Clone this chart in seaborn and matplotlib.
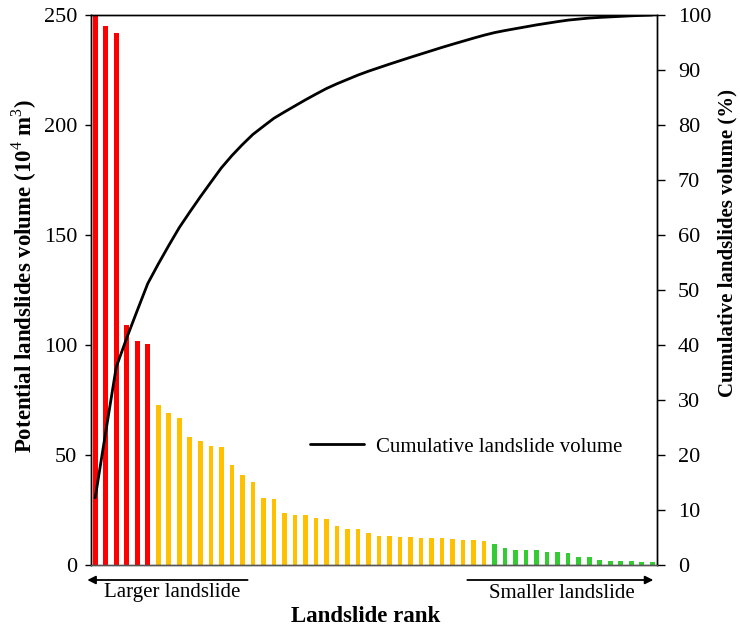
import numpy as np
import pandas as pd
import matplotlib
matplotlib.use("Agg")
import matplotlib.pyplot as plt
import seaborn as sns

# ---- data ----
volumes = [250, 245, 241.7, 109, 102, 100.5,
           72.6, 69.1, 66.7, 58.0, 56.4, 54.2, 53.6, 45.6, 41.1, 37.9, 30.3, 29.8,
           23.5, 22.6, 22.6, 21.4, 20.8, 17.7, 16.2, 16.2, 14.4, 13.2, 13.2, 12.7,
           12.7, 12.3, 12.3, 12.3, 11.7, 11.4, 11.4, 10.9,
           9.7, 7.7, 7.0, 7.0, 7.0, 6.1, 6.1, 5.6, 3.8, 3.8, 2.4, 2.0, 2.0, 2.0, 1.5, 1.5]
groups = ["large"] * 6 + ["medium"] * 32 + ["small"] * 16
group_colors = {"large": "#FF0000", "medium": "#FFC000", "small": "#33CC33"}
left_ticks = [0, 50, 100, 150, 200, 250]
right_ticks = [0, 10, 20, 30, 40, 50, 60, 70, 80, 90, 100]

ranks = np.arange(1, len(volumes) + 1)
vol = np.array(volumes)
cumulative_pct = np.cumsum(vol) / vol.sum() * 100

df = pd.DataFrame({"rank": ranks, "volume": vol, "group": groups})
df_line = pd.DataFrame({"pos": np.arange(len(volumes)), "cum": cumulative_pct})

sns.set_style("ticks")
plt.rcParams["font.family"] = ["Liberation Serif", "DejaVu Serif"]
plt.rcParams["mathtext.fontset"] = "custom"
plt.rcParams["mathtext.rm"] = "Liberation Serif"
plt.rcParams["mathtext.bf"] = "Liberation Serif:bold"
for k in ("text.color", "axes.labelcolor", "xtick.color", "ytick.color",
          "axes.edgecolor"):
    plt.rcParams[k] = "black"

fig = plt.figure(figsize=(7.4, 6.3), dpi=100)
ax = fig.add_axes([91 / 740, 1 - 565 / 630, (657 - 91) / 740, 550 / 630])

sns.barplot(data=df, x="rank", y="volume", hue="group", palette=group_colors,
            dodge=False, width=0.44, legend=False, ax=ax, saturation=1,
            linewidth=0)
ax.set_xlim(-0.4, 53.45)
ax.set_ylim(0, 250)
ax.set_yticks(left_ticks)
ax.set_xticks([])
ax.set_xlabel("")
ax.set_ylabel(r"Potential landslides volume (10$^{4}$ m$^{3}$)",
              fontsize=16.5, fontweight="bold")
ax.yaxis.set_label_coords((39 - 91) / 566, (565 - 276) / 550)
ax.tick_params(axis="y", labelsize=16, direction="out", length=4, width=1, pad=6)

ax2 = ax.twinx()
sns.lineplot(data=df_line, x="pos", y="cum", color="black", linewidth=2,
             ax=ax2, label="Cumulative landslide volume")
ax2.set_ylim(0, 100)
ax2.set_xlim(-0.4, 53.45)
ax2.set_yticks(right_ticks)
ax2.set_ylabel("Cumulative landslides volume (%)", fontsize=15,
               fontweight="bold")
ax2.yaxis.set_label_coords((717 - 91) / 566, (565 - 243) / 550)
ax2.tick_params(axis="y", labelsize=16, direction="out", length=6, width=1, pad=9)
ax2.set_xlabel("")

for a in (ax, ax2):
    for s in a.spines.values():
        s.set_visible(True)
        s.set_linewidth(1)
        s.set_color("black")
ax.spines["bottom"].set_color("#555555")
ax2.spines["bottom"].set_color("#555555")

ax2.legend(loc="center left", bbox_to_anchor=((310 - 91) / 566, (565 - 447) / 550),
           frameon=False, fontsize=15, handlelength=2.6, handletextpad=0.55,
           borderpad=0, borderaxespad=0)

# arrows below the axis
ytr = ax.get_xaxis_transform()
arrow_y = -15 / 550
ax.annotate("", xy=(-0.75, arrow_y), xytext=(14.5, arrow_y), xycoords=ytr,
            textcoords=ytr, annotation_clip=False,
            arrowprops=dict(arrowstyle="-|>", color="black", lw=1.3,
                            mutation_scale=12, shrinkA=0, shrinkB=0))
ax.annotate("", xy=(53.1, arrow_y), xytext=(35.4, arrow_y), xycoords=ytr,
            textcoords=ytr, annotation_clip=False,
            arrowprops=dict(arrowstyle="-|>", color="black", lw=1.3,
                            mutation_scale=12, shrinkA=0, shrinkB=0))
ax.text(7.35, -28 / 550, "Larger landslide", transform=ytr, ha="center",
        va="center", fontsize=15)
ax.text(44.4, -28 / 550, "Smaller landslide", transform=ytr, ha="center",
        va="center", fontsize=15)
ax.text((366 - 91) / 566, -52 / 550, "Landslide rank", transform=ax.transAxes,
        ha="center", va="center", fontsize=16.5, fontweight="bold")

fig.savefig("out.png", dpi=100)
